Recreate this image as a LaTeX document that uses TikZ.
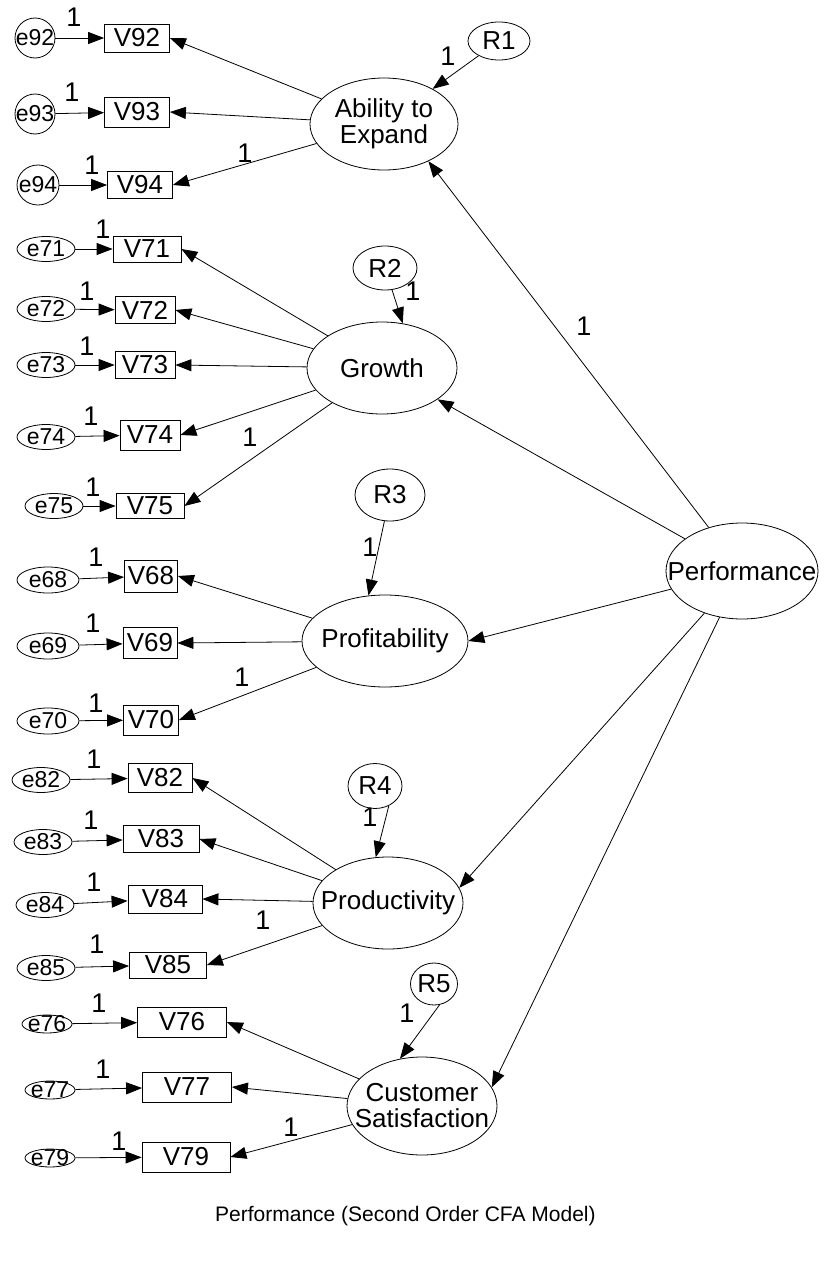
\documentclass[tikz,border=0pt]{standalone}
\usepackage{fontspec}
\setmainfont{Liberation Sans}
\usetikzlibrary{shapes.geometric, arrows.meta}

\begin{document}
\begin{tikzpicture}[
  x=1pt, y=-1pt,
  font=\fontsize{26}{26}\selectfont,
  latent/.style={ellipse, draw, line width=0.8pt, inner sep=0pt,
                 minimum width=150pt, minimum height=92pt},
  lname/.style={align=center, font=\fontsize{26}{26}\selectfont},
  resid/.style 2 args={ellipse, draw, line width=0.8pt, inner sep=0pt,
                 minimum width=#1pt, minimum height=#2pt},
  obsv/.style 2 args={rectangle, draw, line width=0.8pt, inner sep=0pt,
                 minimum width=#1pt, minimum height=#2pt},
  err/.style={ellipse, draw, line width=0.8pt, inner sep=0pt,
              label={[errtxt]center:#1}},
  errtxt/.style={font=\fontsize{23}{23}\selectfont, inner sep=0pt},
  errA/.style={minimum width=40pt, minimum height=40pt},
  errB/.style={minimum width=58pt, minimum height=25pt},
  errC/.style={minimum width=62pt, minimum height=26pt},
  errD/.style={minimum width=50pt, minimum height=18pt},
  pth/.style={-{Triangle[length=16pt, width=12pt]}, line width=0.8pt},
  wlbl/.style={font=\fontsize{27}{27}\selectfont, inner sep=0pt}
]
\useasboundingbox (0,0) rectangle (825,1266);

% ===== SECOND ORDER FACTOR =====
\node[latent, minimum width=152pt, minimum height=96pt,
      label={[lname]center:Performance}] (perf) at (742,571) {};

% ===== ABILITY TO EXPAND =====
\node[latent, minimum width=148pt, label={[lname]center:Ability to\\Expand}] (abil) at (384,124) {};
\node[resid={62}{38}] (r1) at (499,41) {R1};
\node[obsv={65}{28}] (v92) at (137,38) {V92};
\node[obsv={65}{30}] (v93) at (137,112) {V93};
\node[obsv={65}{27}] (v94) at (140,185) {V94};
\node[err=e92, errA] (e92) at (35,38) {};
\node[err=e93, errA] (e93) at (35,114) {};
\node[err=e94, errA, minimum width=42pt] (e94) at (38,185) {};

% ===== GROWTH =====
\node[latent, label={[lname]center:Growth}] (growth) at (382,368) {};
\node[resid={64}{44}] (r2) at (385,268) {R2};
\node[obsv={68}{26}] (v71) at (147,249) {V71};
\node[obsv={60}{27}] (v72) at (145,310) {V72};
\node[obsv={60}{27}] (v73) at (145,365) {V73};
\node[obsv={60}{30}] (v74) at (150,435) {V74};
\node[obsv={68}{25}] (v75) at (150,506) {V75};
\node[err=e71, errB] (e71) at (46,249) {};
\node[err=e72, errB] (e72) at (46,309) {};
\node[err=e73, errB] (e73) at (46,365) {};
\node[err=e74, errB] (e74) at (46,437) {};
\node[err=e75, errB] (e75) at (54,506) {};

% ===== PROFITABILITY =====
\node[latent, minimum width=166pt, label={[lname]center:Profitability}] (profit) at (385,641) {};
\node[resid={70}{52}] (r3) at (390,495) {R3};
\node[obsv={53}{32}] (v68) at (151,576) {V68};
\node[obsv={54}{31}] (v69) at (150,643) {V69};
\node[obsv={55}{30}] (v70) at (151,720) {V70};
\node[err=e68, errC] (e68) at (48,580) {};
\node[err=e69, errC] (e69) at (48,646) {};
\node[err=e70, errC] (e70) at (48,721) {};

% ===== PRODUCTIVITY =====
\node[latent, label={[lname]center:Productivity}] (prod) at (388,903) {};
\node[resid={54}{45}] (r4) at (375,786) {R4};
\node[obsv={64}{29}] (v82) at (160,778) {V82};
\node[obsv={76}{27}] (v83) at (161,839) {V83};
\node[obsv={74}{28}] (v84) at (165,899) {V84};
\node[obsv={77}{26}] (v85) at (168,965) {V85};
\node[err=e82, errB] (e82) at (41,780) {};
\node[err=e83, errB] (e83) at (43,842) {};
\node[err=e84, errB] (e84) at (45,905) {};
\node[err=e85, errB] (e85) at (46,968) {};

% ===== CUSTOMER SATISFACTION =====
\node[latent, minimum height=98pt, label={[lname]center:Customer\\Satisfaction}] (cust) at (422,1106) {};
\node[resid={46}{42}] (r5) at (434,984) {R5};
\node[obsv={89}{30}] (v76) at (182,1022) {V76};
\node[obsv={89}{30}] (v77) at (187,1087) {V77};
\node[obsv={88}{30}] (v79) at (186,1157) {V79};
\node[err=e76, errD] (e76) at (47,1024) {};
\node[err=e77, errD] (e77) at (50,1090) {};
\node[err=e79, errD] (e79) at (50,1158) {};

% ===== PATHS =====
\foreach \e/\v in {e92/v92,e93/v93,e94/v94,e71/v71,e72/v72,e73/v73,e74/v74,e75/v75,
                   e68/v68,e69/v69,e70/v70,e82/v82,e83/v83,e84/v84,e85/v85,
                   e76/v76,e77/v77,e79/v79}{
  \draw[pth] (\e) -- (\v);
}
\foreach \f/\v in {abil/v92,abil/v93,abil/v94,growth/v71,growth/v72,growth/v73,growth/v74,
                   growth/v75,profit/v68,profit/v69,profit/v70,prod/v82,prod/v83,prod/v84,
                   prod/v85,cust/v76,cust/v77,cust/v79}{
  \draw[pth] (\f) -- (\v.east);
}
\draw[pth] (r1) -- (abil);
\draw[pth] (r2) -- (growth.65);
\draw[pth] (r3) -- (profit.110);
\draw[pth] (r4.-55) -- (prod.105);
\draw[pth] (r5.-75) -- (cust.115);

\draw[pth] (perf) -- (abil.-40);
\draw[pth] (perf) -- (growth);
\draw[pth] (perf) -- (profit.east);
\draw[pth] (perf) -- (prod.12);
\draw[pth] (perf) -- (cust.15);

% ===== FIXED WEIGHTS =====
\node[wlbl] (w92) at (74,17) {1};
\node[wlbl] (w93) at (72,92) {1};
\node[wlbl] (w94) at (92,165) {1};
\node[wlbl] (wab) at (245,153) {1};
\node[wlbl] (wr1) at (448,56) {1};
\node[wlbl] (w71) at (103,229) {1};
\node[wlbl] (w72) at (87,291) {1};
\node[wlbl] (w73) at (87,346) {1};
\node[wlbl] (w74) at (91,416) {1};
\node[wlbl] (w75) at (93,487) {1};
\node[wlbl] (wgr) at (250,437) {1};
\node[wlbl] (wr2) at (413,291) {1};
\node[wlbl] (wpf) at (584,326) {1};
\node[wlbl] (w68) at (96,557) {1};
\node[wlbl] (w69) at (93,623) {1};
\node[wlbl] (w70) at (96,703) {1};
\node[wlbl] (wpr) at (242,677) {1};
\node[wlbl] (wr3) at (370,547) {1};
\node[wlbl] (w82) at (94,759) {1};
\node[wlbl] (w83) at (91,820) {1};
\node[wlbl] (w84) at (94,882) {1};
\node[wlbl] (w85) at (97,944) {1};
\node[wlbl] (wpd) at (263,920) {1};
\node[wlbl] (wr4) at (370,817) {1};
\node[wlbl] (w76) at (99,1003) {1};
\node[wlbl] (w77) at (103,1069) {1};
\node[wlbl] (w79) at (119,1141) {1};
\node[wlbl] (wcs) at (291,1127) {1};
\node[wlbl] (wr5) at (407,1013) {1};

% ===== TITLE =====
\node[anchor=base west, inner sep=0pt, font=\fontsize{21}{21}\selectfont] (title) at (215,1221)
  {Performance (Second Order CFA Model)};

\end{tikzpicture}
\end{document}
